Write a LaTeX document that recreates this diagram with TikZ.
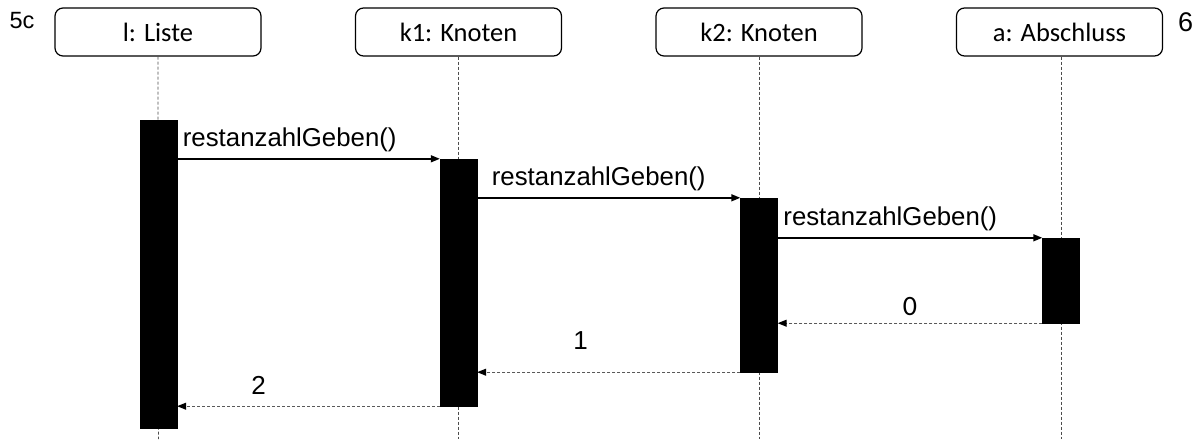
\documentclass[tikz,border=0pt]{standalone}
\usepackage{fontspec}
\setmainfont{Liberation Sans}
\newfontfamily\calfont{Carlito}
\usetikzlibrary{arrows.meta,calc}
\tikzset{
  objbox/.style={draw=black, line width=1.2pt, rounded corners=8pt, fill=white,
    minimum width=206pt, minimum height=48pt, inner sep=0pt,
    font=\calfont\fontsize{26.5}{30}\selectfont},
  lifeline/.style={draw=black!70, dashed, dash pattern=on 3pt off 2pt, line width=0.7pt},
  actbar/.style={draw=black, fill=black, minimum width=37pt, inner sep=0pt},
  call/.style={draw=black, line width=1.4pt, -{Triangle[length=9pt,width=7pt]}},
  reply/.style={draw=black!65, line width=1pt, dash pattern=on 3pt off 2pt,
    -{Triangle[length=9pt,width=7pt,color=black,fill=black]}},
  msglabel/.style={font=\fontsize{25.8}{30}\selectfont, inner sep=0pt},
  retlabel/.style={font=\calfont\fontsize{28}{32}\selectfont, inner sep=0pt},
  retlabelsans/.style={font=\fontsize{26}{30}\selectfont, inner sep=0pt},
  tag/.style={inner sep=0pt}
}
\begin{document}
\begin{tikzpicture}[x=1pt,y=-1pt]
\useasboundingbox (0,0) rectangle (1198,439);

% object heads
\node[objbox] (l)  at (158,32) {l: Liste};
\node[objbox] (k1) at (458.5,32) {k1: Knoten};
\node[objbox] (k2) at (759,32) {k2: Knoten};
\node[objbox] (a)  at (1059.5,32) {a: Abschluss};

\node[tag, font=\fontsize{23.5}{26}\selectfont] (t5c) at (22,21) {5c};
\node[tag, font=\fontsize{27}{30}\selectfont]   (t6)  at (1185.5,22) {6};

% lifeline ends
\coordinate (lend)  at (158.5,439);
\coordinate (k1end) at (458.5,439);
\coordinate (k2end) at (759,439);
\coordinate (aend)  at (1061,439);

\draw[lifeline] (l.south) -- (lend);
\draw[lifeline] (k1.south) -- (k1end);
\draw[lifeline] (k2.south) -- (k2end);
\draw[lifeline] (a.south -| aend) -- (aend);

% activation bars
\node[actbar, minimum height=308pt] (lbar)  at (158.5,274) {};
\node[actbar, minimum height=247pt] (k1bar) at (458.5,282.5) {};
\node[actbar, minimum height=174pt] (k2bar) at (759,285) {};
\node[actbar, minimum height=85pt]  (abar)  at (1061,280.5) {};

% calls
\draw[call] (lbar.east |- k1bar.north) -- (k1bar.north west)
  node[msglabel, pos=0, anchor=south west, xshift=5pt, yshift=6pt] (m1) {restanzahlGeben()};
\draw[call] (k1bar.east |- k2bar.north) -- (k2bar.north west)
  node[msglabel, pos=0, anchor=south west, xshift=14pt, yshift=6pt] (m2) {restanzahlGeben()};
\draw[call] (k2bar.east |- abar.north) -- (abar.north west)
  node[msglabel, pos=0, anchor=south west, xshift=5pt, yshift=6pt] (m3) {restanzahlGeben()};

% replies
\draw[reply] (abar.south west) -- (k2bar.east |- abar.south)
  node[retlabel, pos=0.5, yshift=17pt] (r0) {0};
\draw[reply] (k2bar.south west) -- (k1bar.east |- k2bar.south)
  node[retlabelsans, pos=0.607, yshift=32pt] (r1) {1};
\draw[reply] (k1bar.south west) -- (lbar.east |- k1bar.south)
  node[retlabelsans, pos=0.69, yshift=21pt] (r2) {2};
\end{tikzpicture}
\end{document}
